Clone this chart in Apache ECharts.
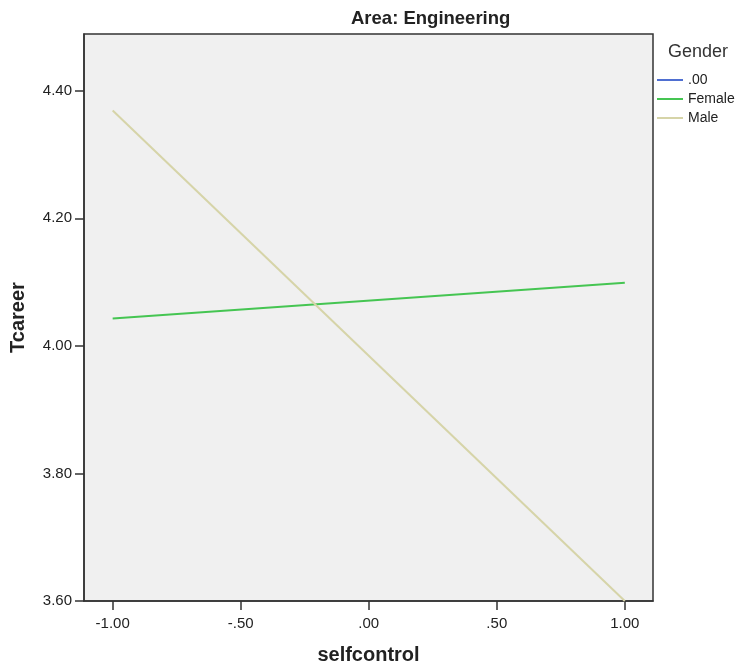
<!DOCTYPE html>
<html>
<head>
<meta charset="utf-8">
<script src="https://cdn.jsdelivr.net/npm/echarts@6/dist/echarts.min.js"></script>
<style>
html,body{margin:0;padding:0;background:#fff;}
#chart{width:735px;height:664px;}
</style>
</head>
<body>
<div id="chart"></div>
<script>
// Data
const chartTitle = 'Area: Engineering';
const legendTitle = 'Gender';
const seriesNames = ['.00', 'Female', 'Male'];
const xValues = [-1.00, 1.00];
const zeroValues = [];
const femaleValues = [4.043, 4.099];
const maleValues = [4.369, 3.600];
const xTicks = [-1.00, -0.50, 0.00, 0.50, 1.00];
const yTicks = [3.60, 3.80, 4.00, 4.20, 4.40];

function spssFmt(v) {
  let s = Math.abs(v).toFixed(2);
  if (s.startsWith('0')) s = s.slice(1);
  return (v < -1e-9 ? '-' : '') + s;
}
function pairs(xs, ys) { return ys.map((y, i) => [xs[i], y]); }

const chart = echarts.init(document.getElementById('chart'), null, {renderer: 'canvas'});
const font = 'Liberation Sans, Arial, sans-serif';
chart.setOption({
  backgroundColor: '#ffffff',
  animation: false,
  textStyle: {fontFamily: font},
  title: [
    {text: chartTitle, left: 346, top: 4,
     textStyle: {fontSize: 18.5, fontWeight: 'bold', color: '#222', fontFamily: font}},
    {text: legendTitle, left: 663, top: 38,
     textStyle: {fontSize: 18, fontWeight: 'normal', color: '#333', fontFamily: font}}
  ],
  legend: {
    orient: 'vertical', left: 657, top: 73, padding: 0,
    itemWidth: 26, itemHeight: 2, itemGap: 5,
    icon: 'rect',
    textStyle: {fontSize: 14, color: '#222', fontFamily: font},
    data: seriesNames
  },
  grid: {
    left: 84, top: 34, width: 569, height: 567,
    containLabel: false, outerBoundsMode: 'none',
    show: true, backgroundColor: '#f0f0f0', borderColor: '#333', borderWidth: 1.5
  },
  xAxis: {
    type: 'value', min: -1.112, max: 1.110,
    name: 'selfcontrol', nameLocation: 'middle', nameGap: 44,
    nameTextStyle: {fontSize: 20, fontWeight: 'bold', color: '#222', fontFamily: font},
    axisLine: {show: true, onZero: false, lineStyle: {color: '#333', width: 1.5}},
    axisTick: {show: true, length: 9, customValues: xTicks, lineStyle: {color: '#333', width: 1.5}},
    axisLabel: {customValues: xTicks, formatter: v => spssFmt(v), fontSize: 15, color: '#222', margin: 15, fontFamily: font},
    splitLine: {show: false}
  },
  yAxis: {
    type: 'value', min: 3.6, max: 4.489,
    name: 'Tcareer', nameLocation: 'middle', nameGap: 56,
    nameTextStyle: {fontSize: 20, fontWeight: 'bold', color: '#222', fontFamily: font},
    axisLine: {show: true, onZero: false, lineStyle: {color: '#333', width: 1.5}},
    axisTick: {show: true, length: 9, customValues: yTicks, lineStyle: {color: '#333', width: 1.5}},
    axisLabel: {customValues: yTicks, formatter: v => v.toFixed(2), fontSize: 15, color: '#222', margin: 12, fontFamily: font},
    splitLine: {show: false}
  },
  series: [
    {name: seriesNames[0], type: 'line', data: pairs(xValues, zeroValues), symbol: 'none',
     itemStyle: {color: '#4f6fd1'}, lineStyle: {color: '#4f6fd1', width: 2}},
    {name: seriesNames[1], type: 'line', data: pairs(xValues, femaleValues), symbol: 'none',
     itemStyle: {color: '#45c552'}, lineStyle: {color: '#45c552', width: 2}},
    {name: seriesNames[2], type: 'line', data: pairs(xValues, maleValues), symbol: 'none',
     itemStyle: {color: '#d6d4a8'}, lineStyle: {color: '#d6d4a8', width: 2}}
  ]
});
</script>
</body>
</html>
